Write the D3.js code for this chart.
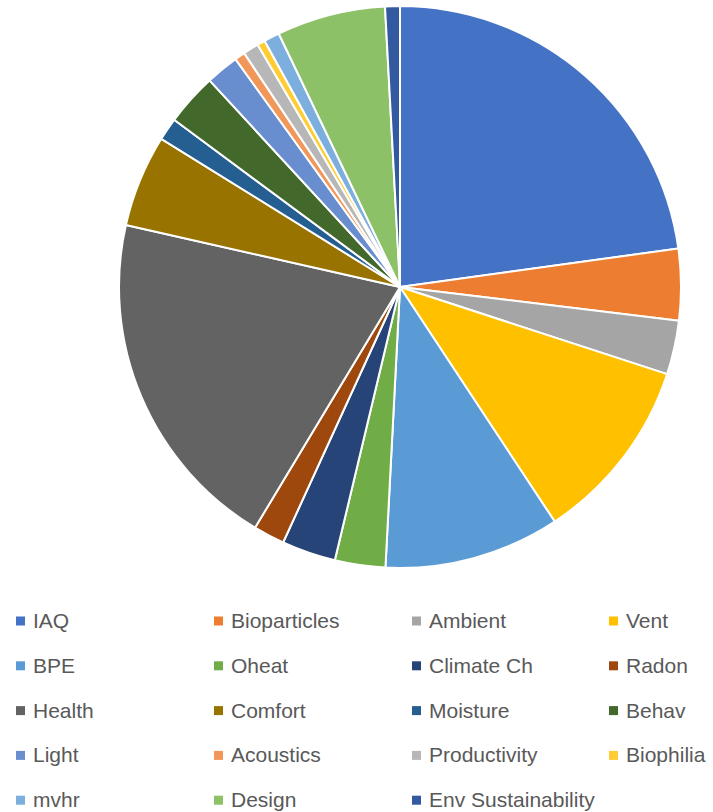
<!DOCTYPE html>
<html>
<head>
<meta charset="utf-8">
<script src="https://cdn.jsdelivr.net/npm/d3@7"></script>
<style>
  body { margin: 0; background: #fff; }
</style>
</head>
<body>
<div id="chart"></div>
<script>
const categories = ["IAQ", "Bioparticles", "Ambient", "Vent", "BPE", "Oheat", "Climate Ch", "Radon",
  "Health", "Comfort", "Moisture", "Behav", "Light", "Acoustics", "Productivity", "Biophilia",
  "mvhr", "Design", "Env Sustainability"];
const values = [22.8, 4.1, 3.1, 10.7, 10.1, 2.9, 3.1, 1.8,
  19.9, 5.3, 1.3, 3.0, 1.9, 0.6, 0.9, 0.45,
  0.9, 6.25, 0.85];
const palette = ["#4472C4", "#ED7D31", "#A5A5A5", "#FFC000", "#5B9BD5", "#70AD47", "#264478", "#9E480E",
  "#636363", "#997300", "#255E91", "#43682B", "#698ED0", "#F1975A", "#B7B7B7", "#FFCD33",
  "#7CAFDD", "#8CC168", "#335AA1"];

const width = 713, height = 812;
const cx = 400, cy = 287, radius = 281;

const color = d3.scaleOrdinal().domain(categories).range(palette);

const svg = d3.select("#chart")
  .append("svg")
  .attr("width", width)
  .attr("height", height);

const data = categories.map((c, i) => ({ name: c, value: values[i] }));

const pie = d3.pie()
  .value(d => d.value)
  .sort(null);

const arc = d3.arc()
  .innerRadius(0)
  .outerRadius(radius);

svg.append("g")
  .attr("transform", `translate(${cx}, ${cy})`)
  .selectAll("path")
  .data(pie(data))
  .join("path")
  .attr("d", arc)
  .attr("fill", d => color(d.data.name))
  .attr("stroke", "#fff")
  .attr("stroke-width", 2)
  .attr("stroke-linejoin", "round");

// legend, 4 columns
const colX = [16, 214, 412, 609];
const rowY = 621, rowStep = 44.8;

const legend = svg.append("g")
  .selectAll("g")
  .data(categories)
  .join("g")
  .attr("transform", (d, i) => `translate(${colX[i % 4]}, ${rowY + Math.floor(i / 4) * rowStep})`);

legend.append("rect")
  .attr("x", 0)
  .attr("y", -4.5)
  .attr("width", 9)
  .attr("height", 9)
  .attr("fill", d => color(d));

legend.append("text")
  .attr("x", 17)
  .attr("y", 7)
  .attr("font-family", "Liberation Sans, Arial, sans-serif")
  .attr("font-size", 21)
  .attr("fill", "#595959")
  .text(d => d);
</script>
</body>
</html>
